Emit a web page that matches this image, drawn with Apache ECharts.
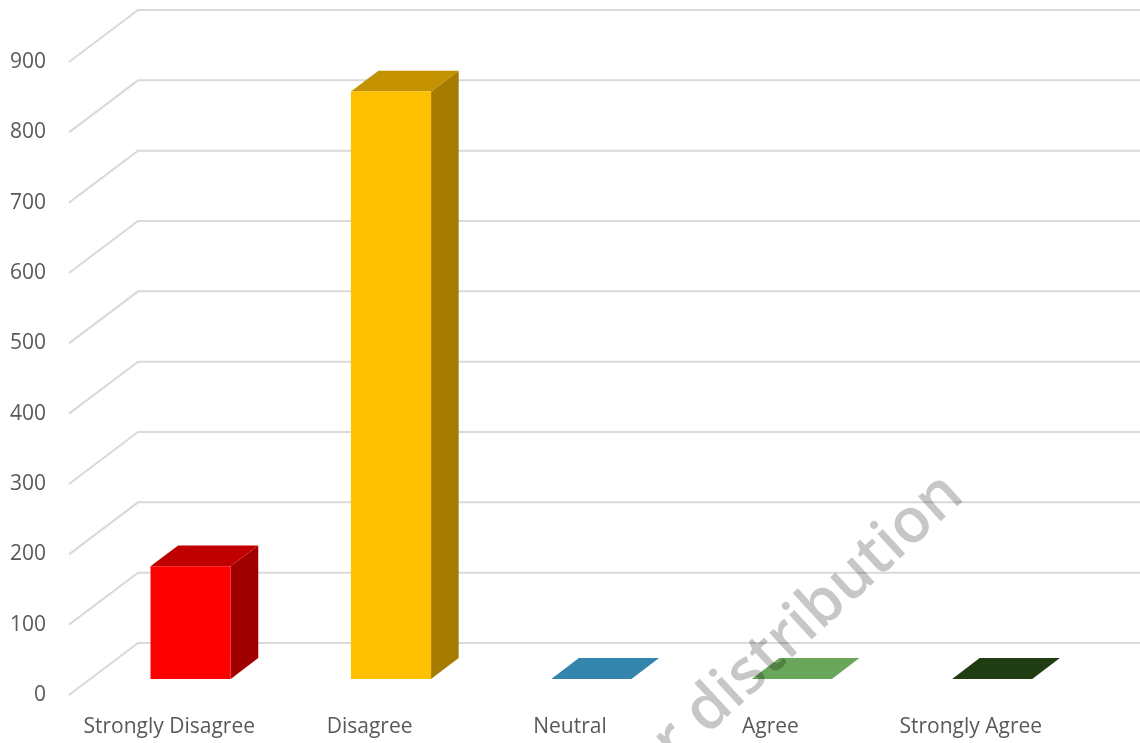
<!DOCTYPE html>
<html>
<head>
<meta charset="utf-8">
<title>Responses</title>
<script src="https://cdn.jsdelivr.net/npm/echarts@6/dist/echarts.min.js"></script>
<style>
  html, body { margin: 0; padding: 0; background: #ffffff; }
  #chart { width: 1140px; height: 743px; }
</style>
</head>
<body>
<div id="chart"></div>
<script>
// Response categories and counts
const categories = ['Strongly Disagree', 'Disagree', 'Neutral', 'Agree', 'Strongly Agree'];
const counts = [160, 835, 0, 0, 0];
// Value axis ticks
const tickValues = [0, 100, 200, 300, 400, 500, 600, 700, 800, 900];

// Face shades per category: front, top, side
const faceColors = [
  ['#FF0000', '#C00000', '#A00000'],
  ['#FFC000', '#C49200', '#A67C00'],
  ['#3D9BCB', '#3385AE', '#2A6E90'],
  ['#7CC068', '#6AA65A', '#578A49'],
  ['#27501A', '#1F3C12', '#17300D']
];

// Oblique depth of the plot box (back wall offset from the front plane)
const DEPTH_X = 69;
const DEPTH_Y = -52;
// Bars sit between these fractions of the depth
const BAR_FRONT = 0.31;
const BAR_BACK = 0.71;
const BAR_WIDTH_RATIO = 0.4;

const chart = echarts.init(document.getElementById('chart'));

function renderGridLine(params, api) {
  const cs = params.coordSys;
  const y = api.coord([0, api.value(0)])[1];
  const x0 = cs.x;
  const x1 = cs.x + cs.width;
  return {
    type: 'polyline',
    shape: {
      points: [
        [x0, y],
        [x0 + DEPTH_X, y + DEPTH_Y],
        [x1 + DEPTH_X, y + DEPTH_Y]
      ]
    },
    style: { stroke: '#D9D9D9', lineWidth: 2, fill: null },
    silent: true
  };
}

function renderBar(params, api) {
  const idx = api.value(0);
  const val = api.value(1);
  const top = api.coord([idx, val]);
  const base = api.coord([idx, 0]);
  const band = api.size([1, 0])[0];
  const w = band * BAR_WIDTH_RATIO;
  const fx = DEPTH_X * BAR_FRONT, fy = DEPTH_Y * BAR_FRONT;
  const dx = DEPTH_X * (BAR_BACK - BAR_FRONT), dy = DEPTH_Y * (BAR_BACK - BAR_FRONT);
  const xL = top[0] - w / 2 + fx;
  const xR = top[0] + w / 2 + fx;
  const yT = top[1] + fy;
  const yB = base[1] + fy;
  const c = faceColors[idx];
  const children = [];
  // side face
  children.push({
    type: 'polygon',
    shape: { points: [[xR, yT], [xR + dx, yT + dy], [xR + dx, yB + dy], [xR, yB]] },
    style: { fill: c[2] }
  });
  // top face
  children.push({
    type: 'polygon',
    shape: { points: [[xL, yT], [xR, yT], [xR + dx, yT + dy], [xL + dx, yT + dy]] },
    style: { fill: c[1] }
  });
  // front face
  if (yB - yT > 0.5) {
    children.push({
      type: 'rect',
      shape: { x: xL, y: yT, width: xR - xL, height: yB - yT },
      style: { fill: c[0] }
    });
  }
  return { type: 'group', children: children };
}

const labelColor = '#595959';
const labelFont = '"Open Sans", Lato, sans-serif';

chart.setOption({
  animation: false,
  backgroundColor: '#ffffff',
  grid: { left: 69, right: 69, top: 62, bottom: 48 },
  xAxis: {
    type: 'category',
    data: categories,
    boundaryGap: true,
    axisLine: { show: false },
    axisTick: { show: false },
    splitLine: { show: false },
    axisLabel: {
      color: labelColor,
      fontFamily: labelFont,
      fontSize: 21,
      margin: 22,
      interval: 0
    }
  },
  yAxis: {
    type: 'value',
    min: 0,
    max: 900,
    interval: 100,
    axisLine: { show: false },
    axisTick: { show: false },
    splitLine: { show: false },
    axisLabel: {
      color: labelColor,
      fontFamily: labelFont,
      fontSize: 21,
      margin: 23,
      padding: [4, 0, 0, 0]
    }
  },
  series: [
    {
      type: 'custom',
      name: 'gridlines',
      renderItem: renderGridLine,
      data: tickValues.map(v => [v]),
      encode: { y: 0 },
      clip: false,
      silent: true,
      z: 1
    },
    {
      type: 'custom',
      name: 'Responses',
      renderItem: renderBar,
      data: counts.map((v, i) => [i, v]),
      encode: { x: 0, y: 1 },
      clip: false,
      z: 2
    }
  ],
  graphic: [
    {
      type: 'text',
      x: 975,
      y: 508,
      rotation: 42.5 * Math.PI / 180,
      z: 100,
      silent: true,
      style: {
        text: 'Not for distribution',
        fontFamily: labelFont,
        fontWeight: 600,
        fontSize: 62,
        fill: 'rgba(0,0,0,0.22)',
        align: 'right',
        verticalAlign: 'bottom'
      }
    }
  ]
});
</script>
</body>
</html>
